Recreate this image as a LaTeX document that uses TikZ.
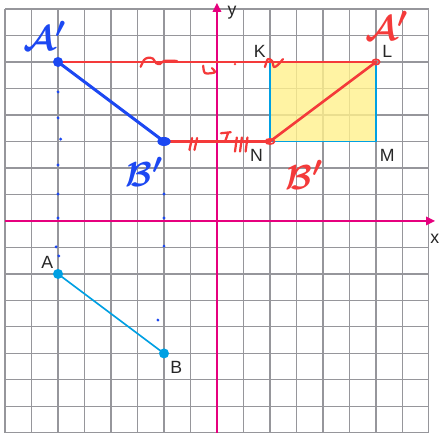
\documentclass[tikz,border=0pt]{standalone}
\usepackage{fontspec}
\setmainfont{Liberation Sans}
\usepackage{xcolor}
\definecolor{gridgray}{RGB}{150,150,155}
\definecolor{axispink}{RGB}{230,0,126}
\definecolor{segcyan}{RGB}{0,160,227}
\definecolor{boxyellow}{RGB}{255,240,140}
\definecolor{penred}{RGB}{244,58,58}
\definecolor{penblue}{RGB}{28,72,242}
\usetikzlibrary{arrows.meta, positioning}

\begin{document}
\begin{tikzpicture}[
  gridline/.style={gridgray, line width=1.2pt},
  axisline/.style={-{Triangle[length=3.4mm,width=3.2mm]}, axispink, line width=1.8pt},
  ptlabel/.style={font=\fontsize{19}{22}\selectfont, inner sep=1pt, text=black!85},
  handblue/.style={font=\Huge\boldmath, scale=1.5, transform shape, text=penblue, inner sep=0pt},
  handred/.style={font=\Huge\boldmath, scale=1.5, transform shape, text=penred, inner sep=0pt},
  segline/.style={segcyan, line width=1.8pt},
  redline/.style={penred, line width=2.8pt, line cap=round},
  blueline/.style={penblue, line width=3.2pt, line cap=round},
  scribble/.style={penred, line width=2.4pt, line cap=round, line join=round}
]
\useasboundingbox (-8.19,-8.15) rectangle (8.38,8.34);
\fill[white] (-8.19,-8.15) rectangle (8.38,8.34);

\coordinate (A) at (-6,-2);  \coordinate (B) at (-2,-5);
\coordinate (Ap) at (-6,6);  \coordinate (Bp) at (-2,3);
\coordinate (K) at (2,6);    \coordinate (L) at (6,6);
\coordinate (M) at (6,3);    \coordinate (N) at (2,3);
\coordinate (xfrom) at (-8,0); \coordinate (xto) at (8.23,0);
\coordinate (yfrom) at (0,-8); \coordinate (yto) at (0,8.23);

\draw[gridline] (-8,-8) grid (8,8);
\fill[boxyellow, fill opacity=0.8] (N) rectangle (L);
\draw[segcyan, line width=1.8pt] (K) -- (N) -- (M) -- (L);

\draw[axisline] (xfrom) -- (xto);
\draw[axisline] (yfrom) -- (yto);
\node[ptlabel] (xlab) at (8.22,-0.67) {x};
\node[ptlabel] (ylab) at (0.57,7.86) {y};

\draw[segline] (A) -- (B);
\fill[segcyan] (A) circle (0.19);
\fill[segcyan] (B) circle (0.19);
\node[ptlabel, above left=0.17cm and 0.14cm of A] (Alab) {A};
\node[ptlabel, below right=0.24cm and 0.2cm of B] (Blab) {B};
\node[ptlabel, above left=0.12cm and 0.12cm of K] (Klab) {K};
\node[ptlabel, above right=0.12cm and 0.2cm of L] (Llab) {L};
\node[ptlabel, below right=0.24cm and 0.11cm of M] (Mlab) {M};
\node[ptlabel, below left=0.24cm and 0.22cm of N] (Nlab) {N};

\foreach \yy/\xx in {4.87/-6, 3.89/-6, 3.09/-5.9, 2.11/-6, 1.02/-6, 0.11/-6, -0.98/-6.07, -1.32/-5.97,
                     1.02/-2, 0.11/-2, -0.95/-2, -3.74/-2.23}
  \fill[penblue] (\xx,\yy) circle (0.06);

\draw[redline] (Ap) -- (L);
\draw[redline] (Bp) -- (N);
\draw[redline] (N) -- (L);
\draw[penred, line width=1.8pt] (N) ellipse (0.17 and 0.1);
\draw[penred, line width=1.8pt] (L) ellipse (0.14 and 0.1);

\draw[scribble] plot[smooth] coordinates {(-2.88,5.82) (-2.75,6.08) (-2.6,6.16) (-2.42,6.13) (-2.3,5.96) (-2.15,5.92) (-2,6.04) (-1.51,6.04)};
\draw[scribble] plot[smooth] coordinates {(-0.52,5.86) (-0.45,5.58) (-0.08,5.61) (-0.19,5.77)};
\fill[penred] (0.68,5.92) circle (0.05);
\draw[scribble] plot[smooth] coordinates {(1.81,5.81) (1.92,6.11) (2.08,6.04) (2.15,5.81) (2.3,5.89) (2.49,6.11)};
\draw[scribble] (-0.94,3.13) -- (-1.04,2.68);
\draw[scribble] (-0.75,3.13) -- (-0.85,2.68);
\draw[scribble] (0.15,3.31) -- (0.52,3.35);
\draw[scribble] (0.42,3.32) -- (0.3,2.98);
\foreach \xx in {0.75,0.94,1.15}
  \draw[scribble] (\xx,3.15) -- (\xx-0.07,2.62);

\draw[blueline] (Ap) -- (Bp);
\fill[penblue] (Ap) circle (0.19);
\fill[penblue] (Bp) ellipse (0.25 and 0.17);

\node[handblue] (Apblue) at (-6.5,6.98) {$\mathcal{A}'$};
\node[handblue] (Bpblue) at (-2.75,1.85) {$\mathcal{B}'$};
\node[handred] (Apred) at (6.4,7.36) {$\mathcal{A}'$};
\node[handred] (Bpred) at (3.3,1.74) {$\mathcal{B}'$};
\end{tikzpicture}
\end{document}
